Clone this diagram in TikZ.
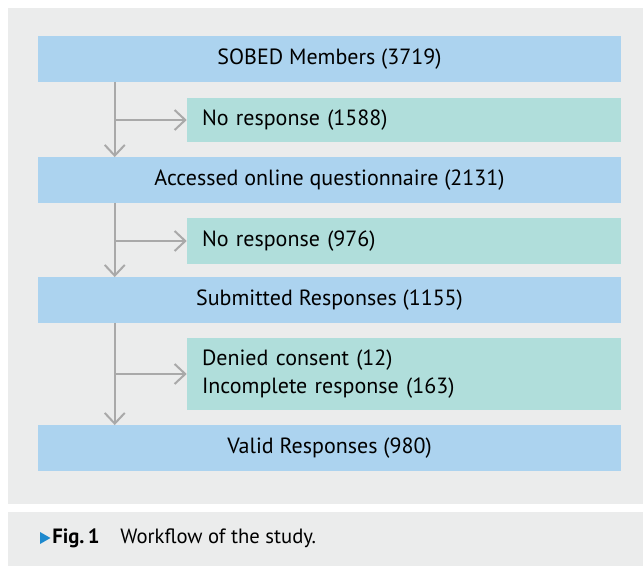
\documentclass[tikz,border=0pt]{standalone}
\usepackage{fontspec}
\setmainfont{PT Sans}
\usetikzlibrary{arrows.meta, positioning, shapes.geometric}
\definecolor{panelgray}{HTML}{EBECEC}
\definecolor{stageblue}{HTML}{ACD3EF}
\definecolor{dropteal}{HTML}{B0DEDB}
\definecolor{flowgray}{HTML}{A9A9A9}
\definecolor{capblue}{HTML}{1D89CE}
\tikzset{
  stage/.style={fill=stageblue, minimum width=437.25pt, minimum height=34pt,
    inner sep=0pt, font=\fontsize{16.5}{20}\selectfont},
  drop/.style={fill=dropteal, minimum width=325.5pt, text width=303pt,
    inner xsep=11.25pt, inner ysep=0pt, align=left, font=\fontsize{16.5}{21}\selectfont},
  flow/.style={draw=flowgray, line width=1.5pt,
    -{Straight Barb[length=8pt, width=15pt]}}
}
\begin{document}
\begin{tikzpicture}[x=0.75pt, y=-0.75pt]
\useasboundingbox (0,0) rectangle (643,566);
\fill[panelgray] (8,8) rectangle (643,504);
\fill[panelgray] (8,512) rectangle (643,566);

\node[stage] (members) at (329.5,59) {SOBED Members (3719)};
\node[drop, minimum height=33pt] (noresp1) at (404,120) {No response (1588)};
\node[stage] (accessed) at (329.5,180) {Accessed online questionnaire (2131)};
\node[drop, minimum height=34pt] (noresp2) at (404,241) {No response (976)};
\node[stage] (submitted) at (329.5,300) {Submitted Responses (1155)};
\node[drop, minimum height=54pt] (excluded) at (404,374)
  {Denied consent (12)\\Incomplete response (163)};
\node[stage] (valid) at (329.5,448) {Valid Responses (980)};

% main flow with side exits
\foreach \top/\side/\bottom in {members/noresp1/accessed,
    accessed/noresp2/submitted, submitted/excluded/valid}
{
  \draw[flow] ([xshift=57.75pt]\top.south west) -- ([xshift=57.75pt]\bottom.north west);
  \draw[flow] ([xshift=57.75pt]\top.south west |- \side.west) -- (\side.west);
}

% caption
\node[fill=capblue, regular polygon, regular polygon sides=3, shape border rotate=-90,
  inner sep=0pt, minimum size=10.4pt] (tri) at (43.5,538) {};
\node[anchor=west, inner sep=0pt, font=\fontsize{15.5}{18}\selectfont] (cap)
  at (52,538) {\textbf{Fig.\,1}\quad Workflow of the study.};
\end{tikzpicture}
\end{document}
